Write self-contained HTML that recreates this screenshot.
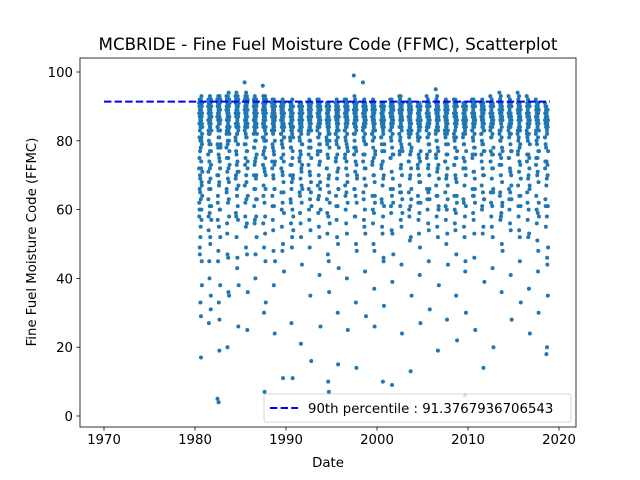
<!DOCTYPE html>
<html><head><meta charset="utf-8"><style>
body{margin:0;background:#fff;}
svg{display:block;font-family:"DejaVu Sans","Liberation Sans",sans-serif;}
</style></head><body>
<svg id="chart" width="640" height="480" viewBox="0 0 640 480">
<rect width="640" height="480" fill="#fff"/>
<text x="328" y="50" font-size="16.7" text-anchor="middle">MCBRIDE - Fine Fuel Moisture Code (FFMC), Scatterplot</text>
<g id="points"></g>
<g id="axes"></g>
<text x="328" y="467" font-size="13.3" text-anchor="middle">Date</text>
<text transform="translate(36,242) rotate(-90)" font-size="13.3" text-anchor="middle">Fine Fuel Moisture Code (FFMC)</text>
</svg>
<script>
const years=[1980,1981,1982,1983,1984,1985,1986,1987,1988,1989,1990,1991,1992,1993,1994,1995,1996,1997,1998,1999,2000,2001,2002,2003,2004,2005,2006,2007,2008,2009,2010,2011,2012,2013,2014,2015,2016,2017,2018];
const yearValues=[
"91 88 62 85 90 75 60 92 87 49 83 89 70 91 65 86 80 33 90 88 55 78 92 84 17 89 72 86 91 60 81 93 68 87 45 90 85 79 88 91 64 84",
"90 86 71 92 83 58 88 91 27 80 89 66 85 92 74 87 40 90 82 61 88 93 77 84 90 52 86 89 69 91 79 85 35 88 92 73 83 90 57 87",
"92 87 5 79 90 84 62 91 88 45 86 93 70 83 89 4 76 91 85 55 88 92 68 81 90 28 87 93 74 85 91 60 89 83 38 92 86 78",
"89 93 82 66 90 86 75 92 84 53 88 91 20 87 79 90 93 69 85 89 46 91 83 72 88 94 63 86 90 80 35 92 87 77 84 91",
"93 88 80 91 85 70 92 87 58 89 94 76 84 90 66 88 92 82 43 91 86 74 89 93 61 85 90 79 87 92 26 88 84 71 91",
"97 89 83 92 86 73 90 88 62 93 85 79 91 87 55 89 94 81 86 92 68 88 90 77 84 93 47 87 91 25 85 89 74 92 64",
"90 86 92 78 88 84 66 91 89 73 87 93 57 85 90 80 88 92 40 86 91 75 89 84 63 92 87 70 90 85 52 88 91 82",
"96 89 85 91 76 88 93 64 86 90 81 87 92 30 85 89 72 91 88 7 84 90 78 87 93 58 89 86 45 91 84 70 88 92 80",
"91 87 83 90 72 88 92 61 85 89 78 86 91 54 88 84 69 90 87 38 92 85 76 89 83 66 91 88 24 86 90 74 87",
"90 86 82 89 75 88 91 60 84 87 79 90 85 48 88 92 70 86 89 11 83 90 76 87 65 85 91 81 42 88 84",
"89 85 80 91 73 87 90 62 84 88 78 86 91 27 85 89 68 90 83 52 87 92 75 86 11 88 84 70 90 81 58",
"90 86 81 88 74 91 85 64 87 89 77 84 90 56 86 88 21 83 91 72 87 85 67 89 84 44 90 86 79 88",
"91 87 83 89 76 90 86 60 88 92 80 85 89 49 87 84 70 91 86 35 88 90 78 85 65 89 83 16 87 91",
"92 88 84 90 77 87 91 63 85 89 81 88 92 55 86 90 73 84 88 41 91 87 79 85 68 90 86 26 89",
"90 86 80 88 72 91 85 59 87 89 76 84 90 47 86 88 10 83 91 69 87 85 7 89 84 36 90 86 78 82 62",
"91 87 82 89 75 90 86 61 88 92 79 85 89 52 87 84 71 91 86 30 88 90 15 85 66 89 83 43 87",
"92 88 83 90 76 87 91 64 85 89 80 88 92 56 86 90 74 84 88 40 91 87 78 85 68 90 86 25 89",
"99 89 85 91 78 88 93 66 86 90 82 87 92 58 85 89 74 91 88 33 84 90 77 87 14 89 86 48 91 70",
"97 88 84 90 76 87 91 63 85 89 80 88 92 55 86 90 72 84 88 42 91 87 79 85 67 90 86 29 89",
"91 87 82 89 74 90 86 60 88 92 78 85 89 50 87 84 70 91 86 37 88 90 26 85 64 89 83 76",
"90 86 81 88 73 91 85 62 87 89 77 84 90 53 86 88 10 83 91 69 87 85 45 89 84 32 90 86 79",
"92 88 83 90 75 87 91 61 85 89 80 88 92 54 86 90 9 84 88 39 91 87 76 85 66 90 86 47 89",
"93 89 84 91 77 88 92 65 86 90 81 87 93 57 85 89 73 91 88 44 84 90 78 87 24 89 86 59 91",
"91 87 82 89 74 90 86 60 88 92 79 85 89 51 87 84 70 91 86 13 88 90 77 85 63 89 83 35",
"90 86 81 88 72 91 85 62 87 89 76 84 90 53 86 88 68 83 91 41 87 85 74 89 84 27 90 86",
"93 88 84 90 76 87 91 63 85 89 81 88 92 56 86 90 73 84 88 45 91 87 79 85 66 90 86 31",
"95 89 83 91 75 88 92 64 86 90 80 87 93 55 85 89 72 91 88 19 84 90 77 87 60 89 86 38",
"91 87 82 89 74 90 86 61 88 92 79 85 89 50 87 84 70 91 86 28 88 90 76 85 63 89 83 44",
"92 88 81 90 73 87 91 60 85 89 78 88 92 54 86 90 69 84 88 35 91 87 75 85 64 90 86 22",
"90 86 82 88 75 91 85 62 87 89 79 84 90 52 86 88 6 83 91 42 87 85 72 89 84 30 90 86",
"92 88 83 90 76 87 91 64 85 89 80 88 92 57 86 90 71 84 88 46 91 87 78 85 66 90 86 25",
"91 87 82 89 74 90 86 60 88 92 79 85 89 53 87 84 70 91 86 14 88 90 77 85 63 89 83 39",
"93 88 84 90 77 87 91 62 85 89 81 88 92 55 86 90 72 84 88 43 91 87 76 85 65 90 86 20",
"94 89 83 91 76 88 92 65 86 90 80 87 93 58 85 89 73 91 88 36 84 90 78 87 61 89 86 48",
"93 88 84 90 75 87 91 63 85 89 82 88 92 56 86 90 71 84 88 41 91 87 77 85 67 90 86 28",
"94 89 83 91 77 88 92 61 86 90 81 87 93 54 85 89 74 91 88 45 84 90 79 87 64 89 86 33",
"93 88 82 90 76 87 91 62 85 89 80 88 92 52 86 90 70 84 88 37 91 87 75 85 66 90 86 24",
"92 87 83 89 75 90 86 60 88 91 79 85 89 51 87 84 71 90 86 42 88 91 77 85 30 89 83 58",
"91 86 81 88 74 90 85 61 87 89 78 84 90 18 86 88 69 83 20 46 87 85 73 89 84 35 86 49"
];
const yearValuesMid=[
"72 58 81 66 47 77 69 52 84 63 29 74 80 57 67 38 82 71",
"76 63 54 82 68 45 79 59 72 84 50 66 31 77 61 83",
"70 84 57 64 78 48 81 33 67 75 19 60 83 72 52 79",
"78 65 83 56 71 47 80 62 75 36 84 68 58 82 73",
"81 69 59 77 84 52 73 64 82 46 71 79 57 83 67 38",
"79 67 84 58 75 82 49 70 63 81 56 77 84 72 36",
"82 70 61 78 56 83 74 66 47 80 69 58 84 76 63",
"81 73 56 84 67 77 49 80 62 71 83 53 75 66 33 82",
"83 74 64 79 57 82 70 48 77 61 84 73 66 80 45",
"82 72 65 80 55 84 71 62 78 50 83 68 74 59 81",
"81 70 63 78 56 83 66 73 49 82 60 77 69 84 54",
"83 75 65 80 59 84 69 76 52 82 71 62 79 73 66",
"82 73 66 78 57 84 71 63 80 54 83 68 75 61",
"83 76 67 81 59 84 70 64 79 52 82 74 66 77 60",
"81 72 63 79 53 84 67 75 58 82 45 70 65 80 56",
"82 74 64 80 57 83 69 76 61 81 50 72 66 78",
"83 75 67 81 60 84 72 65 79 53 82 70 62 77",
"82 76 66 80 58 84 71 64 78 50 83 73 62 69",
"83 74 65 81 57 84 69 76 60 82 53 72 67 79",
"82 73 64 80 56 83 70 75 59 81 48 68 62 77",
"81 72 63 79 55 84 67 74 58 82 46 70 61 77",
"83 75 66 81 59 84 71 64 78 53 82 69 62 76",
"82 76 67 80 61 84 72 65 79 55 83 70 63 77",
"83 74 65 81 58 84 69 76 61 82 52 72 66 78",
"82 73 64 80 57 83 70 75 59 81 49 68 62 77",
"83 75 66 81 60 84 72 65 79 54 82 70 63 77",
"82 76 67 80 58 84 71 64 78 52 83 73 61 69",
"83 74 65 81 57 84 69 76 60 82 53 72 67 79",
"82 73 64 80 56 83 70 75 59 81 47 68 62 77",
"81 72 63 79 55 84 67 74 58 82 45 70 61 77",
"83 75 66 81 59 84 71 64 78 53 82 69 62 76",
"82 76 67 80 61 84 72 65 79 55 83 70 63 77",
"83 74 65 81 58 84 69 76 61 82 52 72 66 78",
"82 73 64 80 57 83 70 75 59 81 50 68 62 77",
"83 75 66 81 60 84 72 65 79 54 82 70 63 77",
"82 76 67 80 58 84 71 64 78 52 83 73 61 69",
"83 74 65 81 57 84 69 76 60 82 53 72 67 79",
"82 73 64 80 56 83 70 75 59 81 48 68 62 77",
"81 72 63 79 55 84 67 74 58 82 44 70 61 77"
];
const tickX=[1970,1980,1990,2000,2010,2020];
const tickY=[0,20,40,60,80,100];
const percentile90=91.3767936706543;
const lineStart=1970, lineEnd=2019;

const NS="http://www.w3.org/2000/svg";
const L=80,R=576,T=58,B=427;
const xS=v=>104+(v-1970)*(559-104)/50;
const yS=v=>416-v*(416-72)/100;
function mk(tag,attrs,parent){const e=document.createElementNS(NS,tag);for(const k in attrs)e.setAttribute(k,attrs[k]);parent.appendChild(e);return e;}
const svg=document.getElementById('chart');
const pts=document.getElementById('points');
function plotYear(yr,str){
  const vals=str.split(' ').map(Number);
  vals.forEach((v,i)=>{
    const d=yr+0.45+0.35*i/(vals.length-1);
    const c=mk('circle',{cx:xS(d).toFixed(2),cy:yS(v).toFixed(2),r:2,fill:'#1f77b4'},pts);
    
    
  });
}
years.forEach((yr,yi)=>{plotYear(yr,yearValues[yi]);plotYear(yr,yearValuesMid[yi]);});
const ax=document.getElementById('axes');
const pl=mk('line',{x1:xS(lineStart),x2:xS(lineEnd),y1:yS(percentile90),y2:yS(percentile90),stroke:'#0000ff','stroke-width':2,'stroke-dasharray':'7.4,3.2'},ax);


const fr=mk('rect',{x:L,y:T,width:R-L,height:B-T,fill:'none',stroke:'#000','stroke-width':0.8},ax);


tickX.forEach(t=>{
  const x=xS(t);
  mk('line',{x1:x,x2:x,y1:B,y2:B+3.5,stroke:'#000','stroke-width':0.8},ax);
  const tx=mk('text',{x:x,y:B+17,'font-size':13.3,'text-anchor':'middle'},ax);
  tx.textContent=t;
  
  
});
tickY.forEach(t=>{
  const y=yS(t);
  mk('line',{x1:L-3.5,x2:L,y1:y,y2:y,stroke:'#000','stroke-width':0.8},ax);
  const tx=mk('text',{x:L-7,y:y+5,'font-size':13.3,'text-anchor':'end'},ax);
  tx.textContent=t;
  
  
});
const lg=mk('g',{},svg);


mk('rect',{x:264,y:394,width:307,height:28,rx:2,fill:'#fff','fill-opacity':0.8,stroke:'#ccc','stroke-width':0.8},lg);
mk('line',{x1:270,x2:298,y1:408,y2:408,stroke:'#0000ff','stroke-width':2,'stroke-dasharray':'7.4,3.2'},lg);
const lt=mk('text',{x:308,y:413,'font-size':13.3},lg);
lt.textContent='90th percentile : '+percentile90;


</script>
</body></html>
